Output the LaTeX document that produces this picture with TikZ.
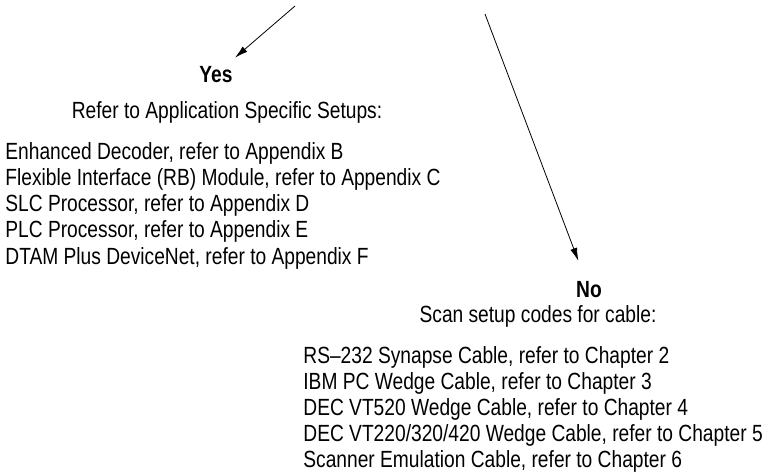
\documentclass[tikz,border=0pt]{standalone}
\usepackage{fontspec}
\setmainfont{Liberation Sans}[FakeStretch=0.82]
\usetikzlibrary{arrows.meta}
\tikzset{txt/.style={font=\fontsize{23.4}{26.4}\selectfont,inner sep=0pt},
  head/.style={txt,font=\fontsize{23.4}{26.4}\selectfont\bfseries,anchor=base}}
\begin{document}
\begin{tikzpicture}[>={Latex[length=13pt,width=7pt]},x=1pt,y=-1pt,line width=0.8pt]
\useasboundingbox (0,0) rectangle (779,475);
\coordinate (s1) at (295,6);
\coordinate (s2) at (485,14);
% yes side
\node[head] (yes) at (216,82) {Yes};
\node[txt,anchor=base] (refer) at (227,118) {Refer to Application Specific Setups:};
\foreach \t [count=\i] in {Enhanced Decoder{,} refer to Appendix B,
  Flexible Interface (RB) Module{,} refer to Appendix C,
  SLC Processor{,} refer to Appendix D,
  PLC Processor{,} refer to Appendix E,
  DTAM Plus DeviceNet{,} refer to Appendix F}
  \node[txt,anchor=base west] (a\i) at (5,{159+26.3*(\i-1)}) {\t};
% no side
\node[head] (no) at (589,297) {No};
\node[txt,anchor=base] (scan) at (538,322) {Scan setup codes for cable:};
\foreach \t [count=\i] in {RS--232 Synapse Cable{,} refer to Chapter 2,
  IBM PC Wedge Cable{,} refer to Chapter 3,
  DEC VT520 Wedge Cable{,} refer to Chapter 4,
  DEC VT220/320/420 Wedge Cable{,} refer to Chapter 5,
  Scanner Emulation Cable{,} refer to Chapter 6}
  \node[txt,anchor=base west] (c\i) at (303,{363+26.1*(\i-1)}) {\t};
\draw[->,shorten >=12pt](s1)--(yes);
\draw[->,shorten >=21pt](s2)--(no);
\end{tikzpicture}
\end{document}
